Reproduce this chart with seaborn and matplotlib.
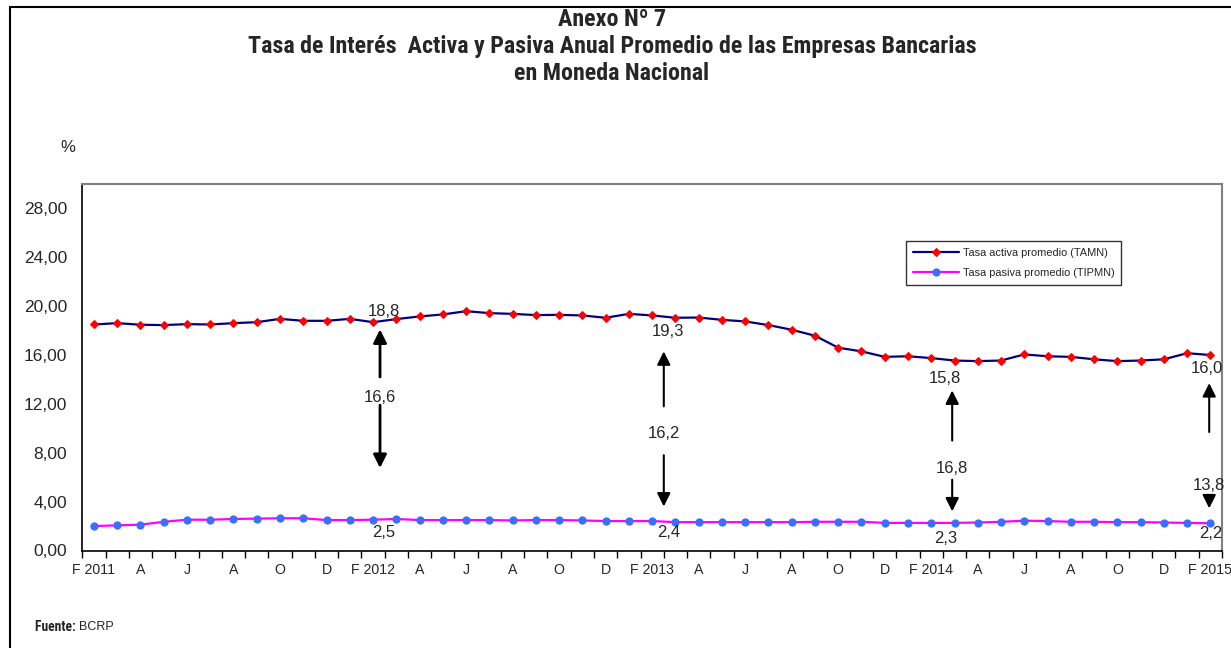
import matplotlib
matplotlib.use("Agg")
import matplotlib.pyplot as plt
from matplotlib import font_manager
import seaborn as sns
import pandas as pd
import numpy as np

# ---------------- data ----------------
months = ["F 2011", "M", "A", "M", "J", "J", "A", "A", "O", "N", "D", "E",
          "F 2012", "M", "A", "M", "J", "J", "A", "A", "O", "N", "D", "E",
          "F 2013", "M", "A", "M", "J", "J", "A", "A", "O", "N", "D", "E",
          "F 2014", "M", "A", "M", "J", "J", "A", "A", "O", "N", "D", "E",
          "F 2015"]
tamn = [18.50, 18.61, 18.48, 18.45, 18.53, 18.50, 18.61, 18.69, 18.96, 18.80,
        18.80, 18.96, 18.69, 18.94, 19.16, 19.32, 19.59, 19.43, 19.37, 19.27,
        19.29, 19.24, 19.05, 19.37, 19.24, 19.05, 19.07, 18.88, 18.75, 18.45,
        18.07, 17.58, 16.60, 16.30, 15.85, 15.90, 15.75, 15.55, 15.50, 15.55,
        16.05, 15.90, 15.85, 15.65, 15.50, 15.55, 15.65, 16.15, 16.00]
tipmn = [2.00, 2.06, 2.11, 2.35, 2.52, 2.52, 2.58, 2.61, 2.64, 2.64,
         2.49, 2.49, 2.52, 2.58, 2.49, 2.49, 2.49, 2.49, 2.46, 2.49,
         2.49, 2.46, 2.41, 2.41, 2.41, 2.32, 2.32, 2.32, 2.32, 2.32,
         2.32, 2.35, 2.35, 2.35, 2.26, 2.26, 2.26, 2.26, 2.29, 2.35,
         2.44, 2.41, 2.35, 2.35, 2.32, 2.32, 2.29, 2.26, 2.23]
series_names = ["Tasa activa promedio (TAMN)", "Tasa pasiva promedio (TIPMN)"]
yticks = [0, 4, 8, 12, 16, 20, 24, 28]
ytick_labels = ["0,00", "4,00", "8,00", "12,00", "16,00", "20,00", "24,00", "28,00"]
title_lines = ["Anexo Nº 7",
               "Tasa de Interés  Activa y Pasiva Anual Promedio de las Empresas Bancarias",
               "en Moneda Nacional"]
annot_top = ["18,8", "19,3", "15,8", "16,0"]
annot_mid = ["16,6", "16,2", "16,8", "13,8"]
annot_bot = ["2,5", "2,4", "2,3", "2,2"]

# ---------------- fonts ----------------
sns.set_theme(style="white")
plt.rcParams['font.family'] = ['Liberation Sans', 'DejaVu Sans']


def has_font(name):
    try:
        font_manager.findfont(font_manager.FontProperties(family=name),
                              fallback_to_default=False)
        return True
    except Exception:
        return False


narrow_name = None
for cand in ['Liberation Sans Narrow', 'Arial Narrow', 'Roboto Condensed']:
    if has_font(cand):
        narrow_name = cand
        break
if narrow_name:
    narrow = [narrow_name, 'Liberation Sans', 'DejaVu Sans']
    title_size = 17.3
    fuente_size = 9.8
else:
    narrow = ['Liberation Sans', 'DejaVu Sans']
    title_size = 14.8
    fuente_size = 8.8

# ---------------- figure ----------------
W, H = 1231, 648
fig = plt.figure(figsize=(W / 100, H / 100), dpi=100)
fig.patch.set_facecolor("white")
ax = fig.add_axes([82.3 / W, 1 - 550.5 / H, (1222 - 82.3) / W, (550.5 - 184) / H])

idx = np.arange(len(months))
df = pd.DataFrame({"idx": idx, "tamn": tamn, "tipmn": tipmn})

sns.lineplot(data=df, x="idx", y="tamn", ax=ax, color="#000080", lw=1.6,
             marker="D", markersize=4, markerfacecolor="#FF0000",
             markeredgecolor="#FF0000", label=series_names[0])
sns.lineplot(data=df, x="idx", y="tipmn", ax=ax, color="#FF00FF", lw=1.6,
             marker="o", markersize=5.2, markerfacecolor="#3A6EFF",
             markeredgecolor="#3A6EFF", label=series_names[1])

ax.set_xlim(-0.5, len(months) - 0.5)
ax.set_ylim(0, 30)
ax.set_xlabel("")
ax.set_ylabel("")

ax.set_yticks(yticks)
ax.set_yticklabels(ytick_labels, fontsize=12.5)
ax.tick_params(axis="y", length=0, pad=11)

ax.set_xticks(idx[::2])
ax.set_xticklabels(months[::2], fontsize=10.2)
ax.set_xticks(np.arange(-0.5, len(months), 1.0), minor=True)
ax.tick_params(axis="x", which="major", length=0, pad=9)
ax.tick_params(axis="x", which="minor", length=5, width=1, color="black",
               direction="out", bottom=True)

for s in ["left", "bottom"]:
    ax.spines[s].set_color("black")
    ax.spines[s].set_linewidth(1.2)
for s in ["top", "right"]:
    ax.spines[s].set_color("#808080")
    ax.spines[s].set_linewidth(1.5)

leg = ax.legend(loc="upper left", bbox_to_anchor=(906 / W, 1 - 241 / H),
                bbox_transform=fig.transFigure, borderaxespad=0,
                fontsize=7.9, frameon=True, fancybox=False, handlelength=4.2,
                handletextpad=0.4, labelspacing=0.95, borderpad=0.6)
leg.get_frame().set_edgecolor("black")
leg.get_frame().set_linewidth(1.0)

# ---------------- annotations ----------------
ann_x = [12.3, 24.5, 36.9, 47.95]
top_pos = [(12.45, 19.55), (24.7, 17.9), (36.6, 14.1), (47.85, 14.9)]
up_arrow = [(14.2, 18.1), (11.8, 16.3), (9.0, 13.1), (9.7, 13.7)]
mid_pos = [12.55, 9.6, 6.75, 5.3]
down_arrow = [(11.9, 6.75), (7.8, 3.6), (5.8, 3.2), (4.3, 3.45)]
bot_pos = [(12.45, 1.5), (24.7, 1.45), (36.6, 0.95), (48.0, 1.4)]
lws = [2.0, 1.5, 1.5, 1.5]
for i in range(4):
    x = ann_x[i]
    ax.text(top_pos[i][0], top_pos[i][1], annot_top[i], fontsize=12,
            ha="center", va="center")
    ax.annotate("", xy=(x, up_arrow[i][1]), xytext=(x, up_arrow[i][0]),
                arrowprops=dict(arrowstyle="-|>", color="black", lw=lws[i],
                                mutation_scale=20, shrinkA=0, shrinkB=0))
    ax.text(x, mid_pos[i], annot_mid[i], fontsize=12, ha="center", va="center")
    ax.annotate("", xy=(x, down_arrow[i][1]), xytext=(x, down_arrow[i][0]),
                arrowprops=dict(arrowstyle="-|>", color="black", lw=lws[i],
                                mutation_scale=20, shrinkA=0, shrinkB=0))
    ax.text(bot_pos[i][0], bot_pos[i][1], annot_bot[i], fontsize=12,
            ha="center", va="center")

# ---------------- titles & texts ----------------
for ypix, line in zip([20, 46, 73], title_lines):
    fig.text(612 / W, 1 - ypix / H, line, ha="center", va="center",
             fontsize=title_size, fontweight="bold", family=narrow)
fig.text(68 / W, 1 - 148 / H, "%", ha="center", va="center", fontsize=12)
fuente = fig.text(35 / W, 1 - 627 / H, "Fuente: ", ha="left", va="center",
                  fontsize=fuente_size, fontweight="bold", family=narrow)
fig.canvas.draw()
bb = fuente.get_window_extent(renderer=fig.canvas.get_renderer())
fig.text(bb.x1 / W, 1 - 627 / H, "BCRP", ha="left", va="center",
         fontsize=9, family=['Liberation Sans', 'DejaVu Sans'])

# outer frame (top and left edges)
fig.add_artist(plt.Line2D([10 / W, 1.0], [1 - 7 / H, 1 - 7 / H],
                          transform=fig.transFigure, color="black", lw=1.5))
fig.add_artist(plt.Line2D([10 / W, 10 / W], [0.0, 1 - 7 / H],
                          transform=fig.transFigure, color="black", lw=1.5))

fig.savefig("out.png", dpi=100, facecolor="white")
